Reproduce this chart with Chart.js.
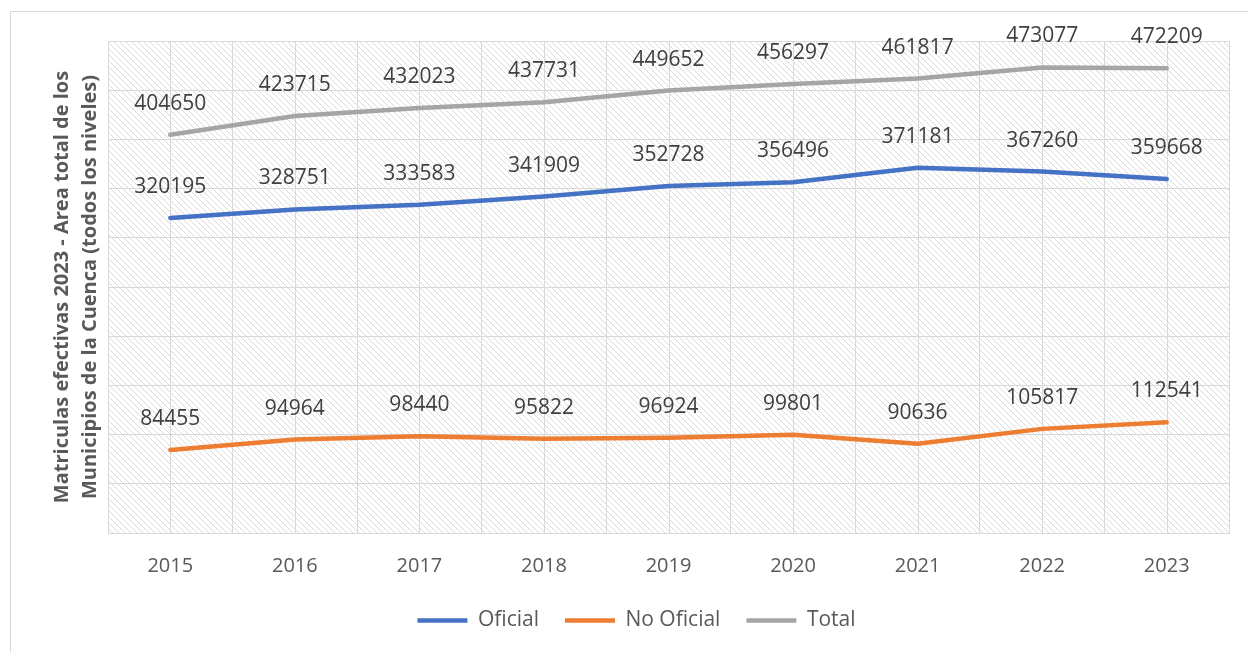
<!DOCTYPE html>
<html>
<head>
<meta charset="utf-8">
<script src="https://cdn.jsdelivr.net/npm/chart.js@4/dist/chart.umd.min.js"></script>
<style>
    html, body { margin: 0; padding: 0; background: #fff; overflow: hidden; }
    #frame {
        position: absolute; left: 10px; top: 11px;
        width: 1300px; height: 700px;
        border: 1px solid #d9d9d9;
    }
    #wrap { position: absolute; left: 0; top: 0; width: 1248px; height: 652px; }
</style>
</head>
<body>
<div id="frame"></div>
<div id="wrap"><canvas id="chart" width="1248" height="652"></canvas></div>
<script>
// Data
const years = ['2015', '2016', '2017', '2018', '2019', '2020', '2021', '2022', '2023'];
const oficial = [320195, 328751, 333583, 341909, 352728, 356496, 371181, 367260, 359668];
const noOficial = [84455, 94964, 98440, 95822, 96924, 99801, 90636, 105817, 112541];
const total = [404650, 423715, 432023, 437731, 449652, 456297, 461817, 473077, 472209];
const axisTitle = ['Matriculas efectivas 2023 - Area total de los', 'Municipios de la Cuenca (todos los niveles)'];

const FONT = "'Open Sans', 'DejaVu Sans', sans-serif";

// Diagonal hatch pattern for plot background
function makeHatch() {
    const c = document.createElement('canvas');
    c.width = 6; c.height = 6;
    const g = c.getContext('2d');
    g.strokeStyle = '#dadada';
    g.lineWidth = 1;
    g.beginPath();
    g.moveTo(0, 0); g.lineTo(6, 6);
    g.moveTo(-3, 3); g.lineTo(3, 9);
    g.moveTo(3, -3); g.lineTo(9, 3);
    g.stroke();
    return g.createPattern(c, 'repeat');
}

// Plot background + vertical lines at category centres
const plotBackground = {
    id: 'plotBackground',
    beforeDraw(chart) {
        const { ctx, chartArea: a, scales } = chart;
        ctx.save();
        ctx.fillStyle = makeHatch();
        ctx.fillRect(a.left, a.top, a.right - a.left, a.bottom - a.top);
        ctx.strokeStyle = '#d9d9d9';
        ctx.lineWidth = 1;
        ctx.beginPath();
        years.forEach((y, i) => {
            const x = Math.round(scales.x.getPixelForValue(i)) + 0.5;
            ctx.moveTo(x, a.top);
            ctx.lineTo(x, a.bottom);
        });
        ctx.stroke();
        ctx.restore();
    }
};

// Value labels above points
const valueLabels = {
    id: 'valueLabels',
    afterDatasetsDraw(chart) {
        const { ctx } = chart;
        ctx.save();
        ctx.font = '21px ' + FONT;
        ctx.fillStyle = '#404040';
        ctx.textAlign = 'center';
        ctx.textBaseline = 'middle';
        chart.data.datasets.forEach((ds, i) => {
            chart.getDatasetMeta(i).data.forEach((pt, j) => {
                ctx.fillText(String(ds.data[j]), pt.x, pt.y - 31);
            });
        });
        ctx.restore();
    }
};

function lineSet(label, data, color) {
    return {
        label: label,
        data: data,
        borderColor: color,
        backgroundColor: color,
        borderWidth: 4.5,
        borderCapStyle: 'round',
        pointRadius: 0,
        pointStyle: 'line',
        tension: 0,
        fill: false
    };
}

new Chart(document.getElementById('chart').getContext('2d'), {
    type: 'line',
    data: {
        labels: years,
        datasets: [
            lineSet('Oficial', oficial, '#4472C4'),
            lineSet('No Oficial', noOficial, '#ED7D31'),
            lineSet('Total', total, '#A5A5A5')
        ]
    },
    options: {
        responsive: false,
        animation: false,
        layout: { padding: { left: 44, right: 19, top: 41, bottom: 11 } },
        plugins: {
            tooltip: { enabled: false },
            legend: {
                position: 'bottom',
                labels: {
                    usePointStyle: true,
                    pointStyleWidth: 50,
                    boxHeight: 20,
                    padding: 26,
                    color: '#595959',
                    font: { family: FONT, size: 21 }
                }
            }
        },
        scales: {
            x: {
                offset: true,
                grid: { color: '#d9d9d9', drawTicks: false, offset: true },
                border: { color: '#d9d9d9' },
                ticks: { color: '#595959', padding: 21, font: { family: FONT, size: 20 } },
                afterFit(scale) { scale.height -= 15; }
            },
            y: {
                min: 0,
                max: 500000,
                ticks: { display: false, stepSize: 50000 },
                grid: { color: '#d9d9d9', drawTicks: false },
                border: { color: '#d9d9d9' },
                title: {
                    display: true,
                    text: axisTitle,
                    color: '#595959',
                    font: { family: FONT, size: 20, weight: 'bold', lineHeight: 1.4 },
                    padding: { top: 4, bottom: 4 }
                }
            }
        }
    },
    plugins: [plotBackground, valueLabels]
});
</script>
</body>
</html>
